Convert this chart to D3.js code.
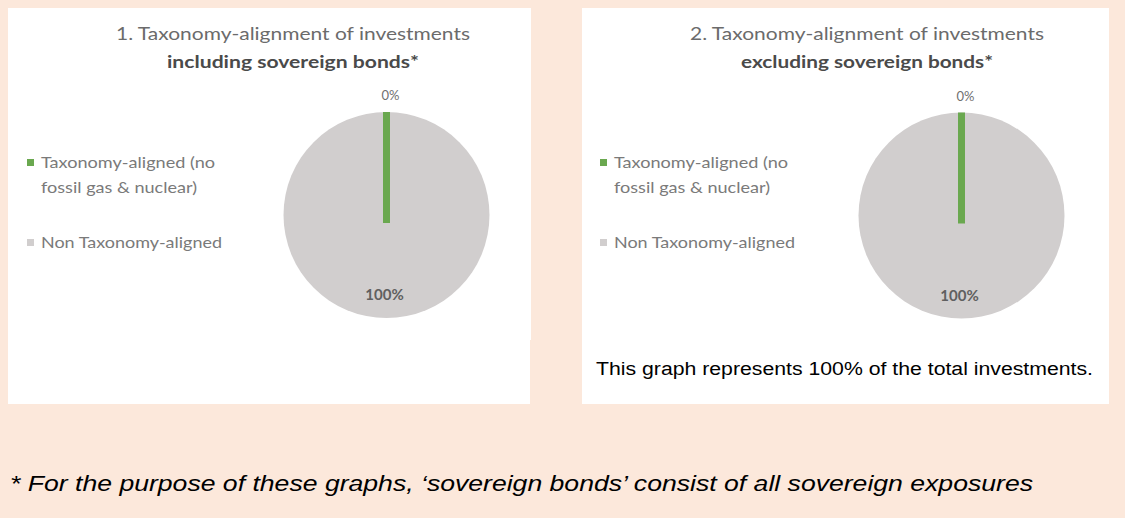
<!DOCTYPE html>
<html>
<head>
<meta charset="utf-8">
<script src="https://cdn.jsdelivr.net/npm/d3@7"></script>
<style>
  html, body { margin: 0; padding: 0; background: #fce8db; }
  svg { display: block; }
</style>
</head>
<body>
<svg id="chart" width="1125" height="518"></svg>
<script>
// ---- data ----
const categories = ["Taxonomy-aligned (no fossil gas & nuclear)", "Non Taxonomy-aligned"];
const legendLines = [["Taxonomy-aligned (no", "fossil gas & nuclear)"], ["Non Taxonomy-aligned"]];
const valuesIncluding = [0, 100];
const valuesExcluding = [0, 100];
const valueLabels = ["0%", "100%"];
const titleLine1 = ["1. Taxonomy-alignment of investments", "2. Taxonomy-alignment of investments"];
const titleLine2 = ["including sovereign bonds*", "excluding sovereign bonds*"];
const captionText = "This graph represents 100% of the total investments.";
const footnoteText = "* For the purpose of these graphs, \u2018sovereign bonds\u2019 consist of all sovereign exposures";

// ---- styles ----
const colors = d3.scaleOrdinal().domain(categories).range(["#6aa84f", "#d1cece"]);
const svg = d3.select("#chart");
const fontCal = "Lato, 'Open Sans', sans-serif";

// panels
svg.append("rect").attr("x", 8).attr("y", 8).attr("width", 523).attr("height", 332).attr("fill", "#fff");
svg.append("rect").attr("x", 8).attr("y", 339).attr("width", 522).attr("height", 65).attr("fill", "#fff");
svg.append("rect").attr("x", 582).attr("y", 8).attr("width", 527).attr("height", 396).attr("fill", "#fff");

const panels = [
  { values: valuesIncluding, t1: titleLine1[0], t2: titleLine2[0], titleX: 293, cx: 386.5, cy: 215, legendX: 27 },
  { values: valuesExcluding, t1: titleLine1[1], t2: titleLine2[1], titleX: 867, cx: 961.5, cy: 215.5, legendX: 600 }
];

const r = 103;
const pie = d3.pie().sort(null).value(d => d);
const arc = d3.arc().innerRadius(0).outerRadius(r);
const legendWidths = [[174, 156], [181]];

panels.forEach(p => {
  const g = svg.append("g");
  // titles
  g.append("text").attr("x", p.titleX).attr("y", 40).attr("text-anchor", "middle")
    .attr("font-family", fontCal).attr("font-size", 18).attr("fill", "#6b6b6b")
    .attr("textLength", 354).attr("lengthAdjust", "spacingAndGlyphs").text(p.t1);
  g.append("text").attr("x", p.titleX).attr("y", 68).attr("text-anchor", "middle")
    .attr("font-family", fontCal).attr("font-size", 17).attr("font-weight", "bold").attr("fill", "#4a4a4a")
    .attr("textLength", 252).attr("lengthAdjust", "spacingAndGlyphs").text(p.t2);

  const arcs = pie(p.values);
  const pg = g.append("g").attr("transform", `translate(${p.cx},${p.cy})`);
  // slices
  pg.selectAll("path.slice").data(arcs).join("path")
    .attr("class", "slice")
    .attr("d", arc)
    .attr("fill", (d, i) => colors(categories[i]));
  // zero-valued slice drawn as a thin line along its angle
  arcs.forEach((d, i) => {
    if (d.endAngle - d.startAngle < 0.02) {
      const a = (d.startAngle + d.endAngle) / 2;
      const p0 = d3.pointRadial(a, r);
      const p1 = d3.pointRadial(a + Math.PI, 8);
      pg.append("line").attr("x1", p0[0]).attr("y1", p0[1]).attr("x2", p1[0]).attr("y2", p1[1])
        .attr("stroke", colors(categories[i])).attr("stroke-width", 7);
      pg.append("text").attr("x", p0[0] + 4).attr("y", p0[1] - 12).attr("text-anchor", "middle")
        .attr("font-family", fontCal).attr("font-size", 13).attr("fill", "#707070").text(valueLabels[i]);
    } else {
      const a = (d.startAngle + d.endAngle) / 2;
      const pt = d3.pointRadial(a, r * 0.78);
      pg.append("text").attr("x", pt[0] - 2).attr("y", pt[1] + 5).attr("text-anchor", "middle")
        .attr("font-family", fontCal).attr("font-size", 15).attr("font-weight", "bold").attr("fill", "#606060").text(valueLabels[i]);
    }
  });

  // legend
  const lg = g.append("g").attr("transform", `translate(${p.legendX},0)`);
  const legendY = [163, 243];
  categories.forEach((c, i) => {
    lg.append("rect").attr("x", 0).attr("y", legendY[i] - 4).attr("width", 7).attr("height", 7).attr("fill", colors(c));
    legendLines[i].forEach((line, j) => {
      lg.append("text").attr("x", 14).attr("y", legendY[i] + 5 + j * 25)
        .attr("font-family", fontCal).attr("font-size", 16).attr("fill", "#7a7a7a")
        .attr("textLength", legendWidths[i][j]).attr("lengthAdjust", "spacingAndGlyphs").text(line);
    });
  });
});

// caption in panel 2
svg.append("text").attr("x", 596).attr("y", 375)
  .attr("font-family", "'Liberation Sans', Arial, sans-serif").attr("font-size", 18).attr("fill", "#000")
  .attr("textLength", 497).attr("lengthAdjust", "spacingAndGlyphs").text(captionText);

// footnote
svg.append("text").attr("x", 10).attr("y", 491)
  .attr("font-family", "'Liberation Sans', Arial, sans-serif").attr("font-size", 22).attr("font-style", "italic").attr("fill", "#000")
  .attr("textLength", 1023).attr("lengthAdjust", "spacingAndGlyphs").text(footnoteText);
</script>
</body>
</html>
